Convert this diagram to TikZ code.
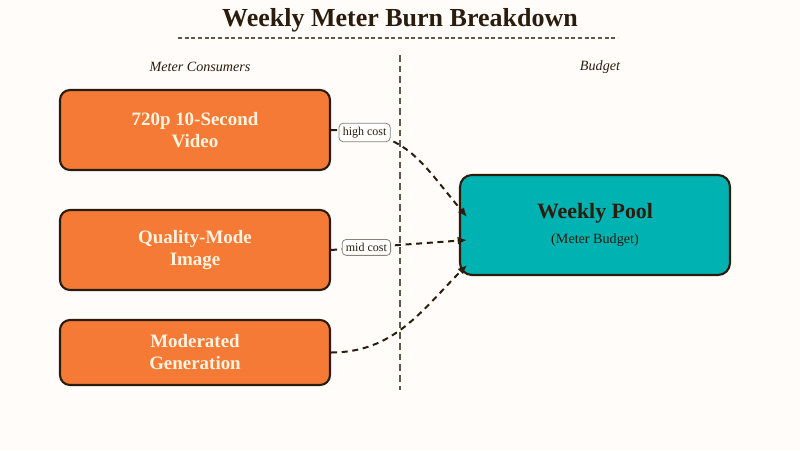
\documentclass[tikz,border=0pt]{standalone}
\usepackage{fontspec}
\setmainfont{Liberation Serif}
\usetikzlibrary{arrows.meta}
\definecolor{ink}{HTML}{2B1D0E}
\definecolor{paper}{HTML}{FFFCFA}
\definecolor{burnorange}{HTML}{F47A35}
\definecolor{poolteal}{HTML}{00B2B2}
\definecolor{capcream}{HTML}{FFF3E2}

\begin{document}
\begin{tikzpicture}[x=0.75pt, y=-0.75pt, >={Latex[length=7pt,width=6pt]},
consumer/.style={draw=ink, line width=1.6pt, rounded corners=7.5pt, fill=burnorange, minimum width=202.5pt, minimum height=60pt, align=center, text=capcream, font=\bfseries\fontsize{14.2}{16.5}\selectfont},
pool/.style={draw=ink, line width=1.6pt, rounded corners=9pt, fill=poolteal, minimum width=202.5pt, minimum height=75pt, align=center, text=ink},
tag/.style={draw=ink!55, fill=white, rounded corners=3pt, line width=0.6pt, inner sep=2.8pt, text=ink, font=\fontsize{9}{11}\selectfont},
flow/.style={->, draw=ink, line width=1.5pt, dash pattern=on 4.5pt off 3.5pt},
header/.style={text=ink, font=\itshape\fontsize{10.6}{12}\selectfont}]

\fill[paper] (0,0) rectangle (800,450);
\useasboundingbox (0,0) rectangle (800,450);

\node[text=ink, font=\bfseries\fontsize{19.5}{23}\selectfont] (title) at (400,20) {Weekly Meter Burn Breakdown};
\draw[ink!75, line width=0.9pt, dash pattern=on 3pt off 2pt] (178,38) -- (618,38);
\draw[ink!75, line width=0.9pt, dash pattern=on 5pt off 3pt] (400,55) -- (400,390);

\node[header] (lefthead) at (200,67) {Meter Consumers};
\node[header] (righthead) at (600,67) {Budget};

\node[consumer] (video) at (195,130) {720p 10-Second\\Video};
\node[consumer] (image) at (195,250) {Quality-Mode\\Image};
\node[consumer, minimum height=48.75pt] (moder) at (195,352.5) {Moderated\\Generation};
\node[pool] (weekly) at (595,225) {{\bfseries\fontsize{16.4}{19}\selectfont Weekly Pool}\\[7pt]{\fontsize{10.6}{12}\selectfont (Meter Budget)}};

\coordinate (in1) at (467,217);
\coordinate (in2) at (467,240);
\coordinate (in3) at (467,265);
\draw[flow] (video.east) to[out=0, in=130, looseness=1.2] node[tag, pos=0.17, solid] {high cost} (in1);
\draw[flow] (image.east) -- node[tag, pos=0.26, solid] {mid cost} (in2);
\draw[flow] (moder.east) to[out=0, in=225] (in3);
\end{tikzpicture}
\end{document}
